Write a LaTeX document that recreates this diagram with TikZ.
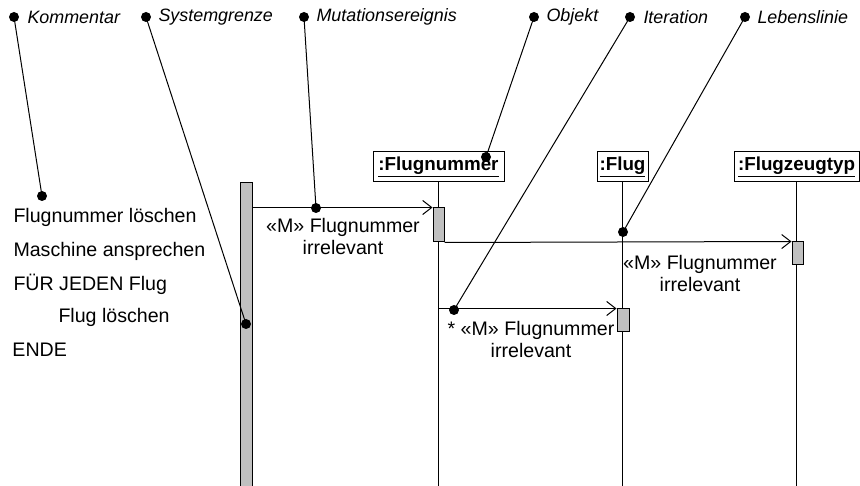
\documentclass[tikz,border=0pt]{standalone}
\usepackage{fontspec}
\setmainfont{Liberation Sans}
\usetikzlibrary{arrows.meta}
\definecolor{actgray}{RGB}{192,192,192}
\begin{document}
\begin{tikzpicture}[x=1pt,y=-1pt,line width=1pt,
  lbl/.style={anchor=west,font=\fontsize{17.9}{20}\selectfont\itshape,inner sep=0pt},
  dot/.style={circle,fill=black,inner sep=0pt,minimum size=10pt},
  obj/.style={draw,fill=white,font=\fontsize{18.8}{20}\selectfont\bfseries,inner sep=0pt,minimum height=30pt},
  act/.style={draw,fill=actgray,inner sep=0pt},
  msg/.style={-{Straight Barb[length=9pt,width=14pt]}},
  txt/.style={font=\fontsize{19.6}{22}\selectfont,inner sep=0pt},
  cmt/.style={txt,anchor=west}]
\useasboundingbox (0,0) rectangle (860,486);
\coordinate (bot) at (0,490);
% objects
\node[obj,minimum width=131pt] (fn) at (438.5,167) {\underline{:Flugnummer}};
\node[obj,minimum width=51pt] (fl) at (622.5,167) {\underline{:Flug}};
\node[obj,minimum width=125pt] (fz) at (796.5,167) {\underline{:Flugzeugtyp}};
% lifelines
\draw (fn.south) -- (fn.south |- bot);
\draw (fl.south) -- (fl.south |- bot);
\draw (fz.south) -- (fz.south |- bot);
% system boundary
\node[act,minimum width=12pt,minimum height=310pt] (sys) at (246,338) {};
% activations
\node[act,minimum width=11pt,minimum height=34pt] (a1) at (438.5,225) {};
\node[act,minimum width=11pt,minimum height=23pt] (a2) at (797.5,253.5) {};
\node[act,minimum width=12pt,minimum height=23pt] (a3) at (623,320.5) {};
% messages
\draw[msg] (sys.east |- a1.north west) -- (a1.north west);
\draw[msg] (a1.south east) -- (a2.north west);
\draw[msg] (fn.south |- a3.north west) -- (a3.north west);
\node[txt,align=center] (m1) at (343,236) {«M» Flugnummer\\irrelevant};
\node[txt,align=center] (m2) at (700,273.5) {«M» Flugnummer\\irrelevant};
\node[txt,align=center] (m3) at (531,339) {* «M» Flugnummer\\irrelevant};
% comment text
\node[cmt] (c1) at (13,217) {Flugnummer löschen};
\node[cmt] (c2) at (13,251) {Maschine ansprechen};
\node[cmt] (c3) at (13,284) {FÜR JEDEN Flug};
\node[cmt] (c4) at (58,317) {Flug löschen};
\node[cmt] (c5) at (12,350) {ENDE};
% top labels
\node[dot] (d1) at (14,17) {};
\node[lbl] (l1) at (27,17) {Kommentar};
\node[dot] (d2) at (146,17) {};
\node[lbl] (l2) at (158,17) {Systemgrenze};
\node[dot] (d3) at (304,17) {};
\node[lbl] (l3) at (316,17) {Mutationsereignis};
\node[dot] (d4) at (534,17) {};
\node[lbl] (l4) at (546,17) {Objekt};
\node[dot] (d5) at (630,17) {};
\node[lbl] (l5) at (643,17) {Iteration};
\node[dot] (d6) at (745,17) {};
\node[lbl] (l6) at (757,17) {Lebenslinie};
% target dots
\node[dot] (e1) at (42,196) {};
\node[dot] (e2) at (246,324) {};
\node[dot] (e3) at (316,208) {};
\node[dot] (e4) at (486,157) {};
\node[dot] (e5) at (454,310) {};
\node[dot] (e6) at (623,232) {};
\draw (d1.center) -- (e1.center);
\draw (d2.center) -- (e2.center);
\draw (d3.center) -- (e3.center);
\draw (d4.center) -- (e4.center);
\draw (d5.center) -- (e5.center);
\draw (d6.center) -- (e6.center);
\end{tikzpicture}
\end{document}
